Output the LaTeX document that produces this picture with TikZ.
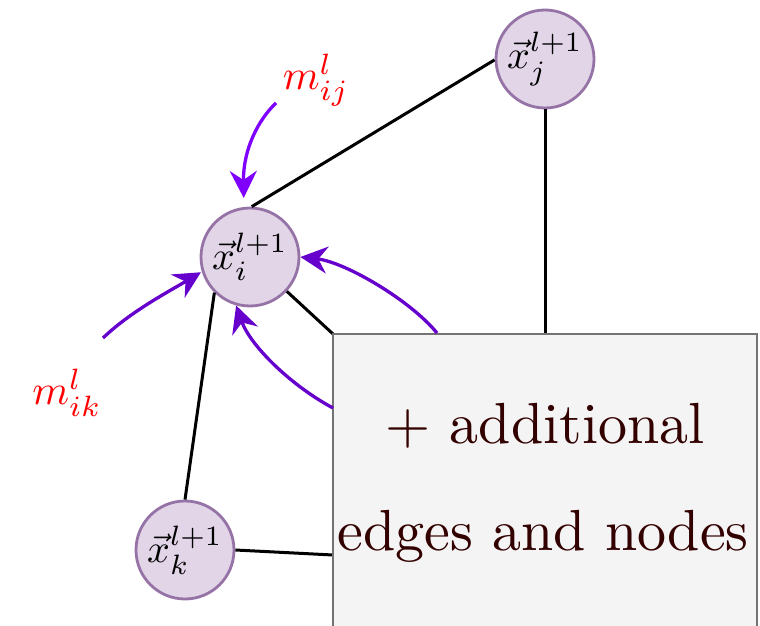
\documentclass[tikz,border=0pt]{standalone}
\usepackage{graphicx}
\usetikzlibrary{arrows.meta}
\definecolor{nfill}{HTML}{E1D5E7}
\definecolor{ndraw}{HTML}{9673A6}
\definecolor{bfill}{HTML}{F4F4F4}
\definecolor{bdraw}{HTML}{737373}
\definecolor{btext}{HTML}{330000}
\definecolor{violA}{HTML}{7F00FF}
\definecolor{violB}{HTML}{6600CC}
\newcommand{\nodetxt}[1]{\scalebox{4}{$#1$}}
\newcommand{\labtxt}[1]{\scalebox{4.2}{$#1$}}
\newcommand{\boxtxt}[1]{\scalebox{5.8}{#1}}
\begin{document}
\begin{tikzpicture}[x=1pt,y=1pt,
  vnode/.style={circle, draw=ndraw, fill=nfill, line width=2.8pt, minimum size=98pt, inner sep=0pt},
  edge/.style={black, line width=3pt},
  msg/.style={line width=3.3pt, -{Stealth[length=27pt,width=27pt,inset=9pt]}},
  mlabel/.style={text=red, inner sep=0pt},
  boxtext/.style={text=btext, inner sep=0pt, anchor=base},
  bigbox/.style={draw=bdraw, fill=bfill, line width=2.8pt, minimum width=424pt, minimum height=330pt, inner sep=0pt}]
\useasboundingbox (0,0) rectangle (760,625);
% nodes
\node[vnode] (xi) at (250,368) {\nodetxt{\vec{x}_i^{l+1}}};
\node[vnode] (xj) at (545,566) {\nodetxt{\vec{x}_j^{l+1}}};
\node[vnode] (xk) at (185,75) {\nodetxt{\vec{x}_k^{l+1}}};
\coordinate (kb) at (333,70);
% edges (behind box)
\draw[edge] (xi.88) -- (xj.181);
\draw[edge] (xi.225) -- (xk.north);
\draw[edge] (xk.east) -- (kb);
\draw[edge] (xi.-43) -- (333,291) coordinate (bnw);
\draw[edge] (xj.south) -- (545,291) coordinate (bn);
% box
\begin{scope}
\clip (0,0) rectangle (760,625);
\node[bigbox] (box) at (545,126) {};
\end{scope}
\node[boxtext] (t1) at (545,182) {\boxtxt{$+$ additional}};
\node[boxtext] (t2) at (543,75) {\boxtxt{edges and nodes}};
% labels
\node[mlabel] (mij) at (316,545) {\labtxt{m_{ij}^{l}}};
\node[mlabel] (mik) at (67,232) {\labtxt{m_{ik}^{l}}};
% message arrows
\coordinate (a1s) at (276,522);
\coordinate (a2s) at (103,287);
\coordinate (a3s) at (437,292);
\coordinate (a4s) at (333,217);
\draw[msg, violA, shorten >=9pt] (a1s) .. controls (258,505) and (243,475) .. (xi.97);
\draw[msg, violB, shorten >=1pt] (a2s) .. controls (130,313) and (168,333) .. (xi.197);
\draw[msg, violB] (a3s) .. controls (410,325) and (345,363) .. (xi.east);
\draw[msg, violB] (a4s) .. controls (290,240) and (250,280) .. (xi.254);
\end{tikzpicture}
\end{document}
